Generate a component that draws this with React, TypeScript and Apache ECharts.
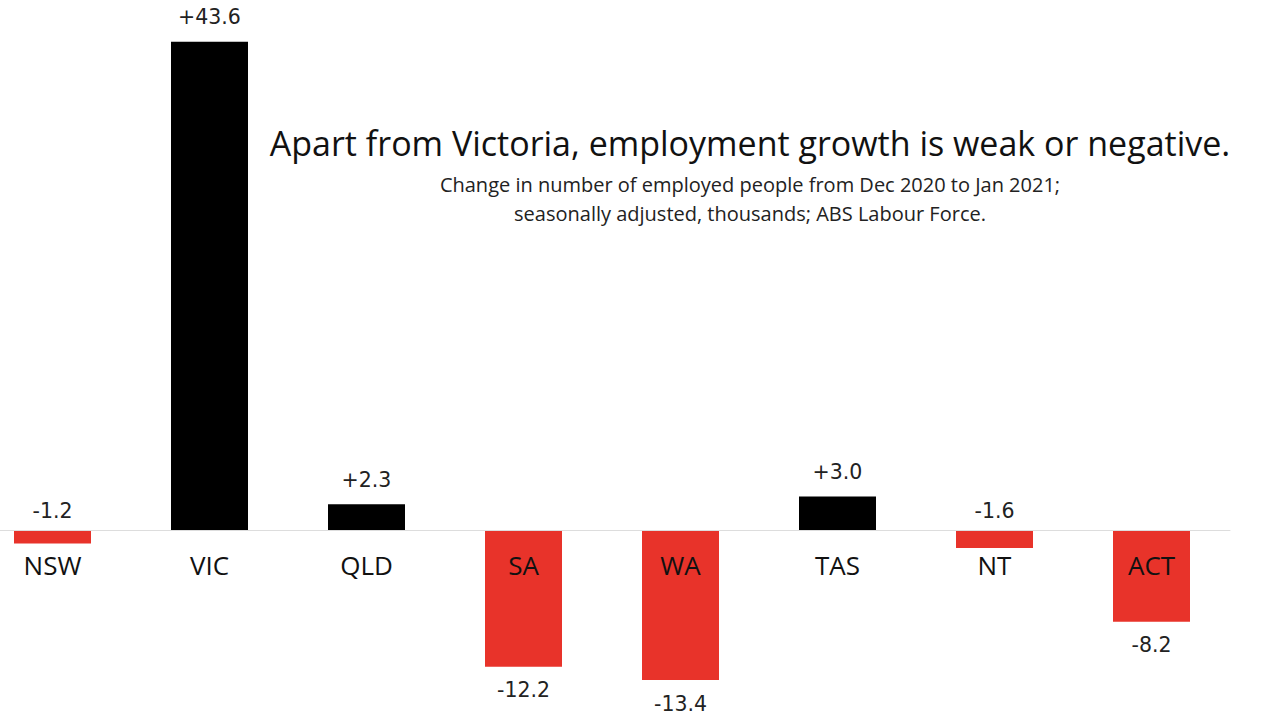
import React, { useEffect, useRef } from "react";
import * as echarts from "echarts";

const states = ["NSW", "VIC", "QLD", "SA", "WA", "TAS", "NT", "ACT"];
const changes = [-1.2, 43.6, 2.3, -12.2, -13.4, 3.0, -1.6, -8.2];
const labelAbove = [true, true, true, false, false, true, true, false];

const titleText = "Apart from Victoria, employment growth is weak or negative.";
const subtitleLines = [
  "Change in number of employed people from Dec 2020 to Jan 2021;",
  "seasonally adjusted, thousands; ABS Labour Force.",
];

const FONT = "'Open Sans', 'Noto Sans', sans-serif";
const NUMFONT = "'DejaVu Sans', 'Open Sans', sans-serif";

const Y_MIN = -15;
const Y_MAX = 45;
const GRID_TOP = 26;
const GRID_HEIGHT = 672;

export default function App() {
  const ref = useRef<HTMLDivElement>(null);
  useEffect(() => {
    if (!ref.current) return;
    const chart = echarts.init(ref.current, null, { renderer: "svg" });
    const data = changes.map((v, i) => {
      const above = labelAbove[i];
      return {
        value: v,
        itemStyle: { color: v >= 0 ? "#000000" : "#E8332A" },
        label: {
          position: above ? "top" : "bottom",
          distance: above ? (v >= 0 ? 14 : 9) : 13,
        },
      };
    });
    // offset that places the category axis on the zero line
    const zeroOffset = -(GRID_HEIGHT * (0 - Y_MIN)) / (Y_MAX - Y_MIN);
    chart.setOption({
      animation: false,
      backgroundColor: "#ffffff",
      grid: {
        left: -26,
        top: GRID_TOP,
        width: 1256,
        height: GRID_HEIGHT,
        containLabel: false,
        outerBoundsMode: "none",
      },
      xAxis: {
        type: "category",
        data: states,
        z: 10,
        position: "bottom",
        offset: zeroOffset,
        axisLine: { onZero: false, lineStyle: { color: "#dddddd", width: 1 } },
        axisTick: { show: false },
        axisLabel: {
          color: "#111111",
          fontSize: 26,
          fontFamily: FONT,
          margin: 22,
          interval: 0,
        },
      },
      yAxis: {
        type: "value",
        min: Y_MIN,
        max: Y_MAX,
        show: false,
        splitLine: { show: false },
      },
      series: [
        {
          type: "bar",
          data,
          barWidth: 77,
          label: {
            show: true,
            fontSize: 20.5,
            fontFamily: NUMFONT,
            color: "#222222",
            formatter: (p: any) =>
              (p.value > 0 ? "+" : "") + Number(p.value).toFixed(1),
          },
        },
      ],
      graphic: [
        {
          type: "text",
          x: 750,
          y: 143,
          style: {
            text: titleText,
            fontSize: 34,
            fontFamily: FONT,
            fill: "#111111",
            align: "center",
            verticalAlign: "middle",
          },
        },
        {
          type: "text",
          x: 750,
          y: 184,
          style: {
            text: subtitleLines[0],
            fontSize: 20,
            fontFamily: FONT,
            fill: "#222222",
            align: "center",
            verticalAlign: "middle",
          },
        },
        {
          type: "text",
          x: 750,
          y: 213,
          style: {
            text: subtitleLines[1],
            fontSize: 20,
            fontFamily: FONT,
            fill: "#222222",
            align: "center",
            verticalAlign: "middle",
          },
        },
      ],
    });
    return () => chart.dispose();
  }, []);
  return (
    <div
      ref={ref}
      style={{ position: "fixed", left: 0, top: 0, width: 1280, height: 720 }}
    />
  );
}
